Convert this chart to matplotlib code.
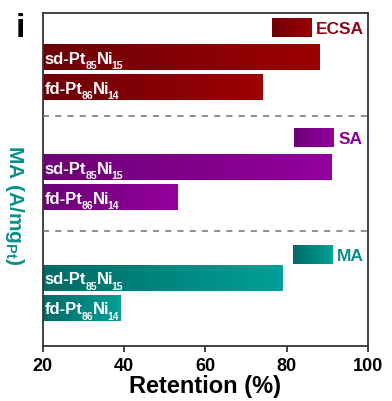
import numpy as np
import matplotlib.pyplot as plt
from matplotlib.colors import LinearSegmentedColormap
from matplotlib.font_manager import FontProperties
from matplotlib.transforms import ScaledTranslation
from matplotlib.textpath import TextPath

plt.rcParams['font.family'] = 'Liberation Sans'
plt.rcParams['font.weight'] = 'bold'
plt.rcParams['mathtext.fontset'] = 'custom'
plt.rcParams['mathtext.rm'] = 'Liberation Sans:bold'
plt.rcParams['mathtext.bf'] = 'Liberation Sans:bold'
plt.rcParams['mathtext.default'] = 'bf'

# ---- retention data ----
metrics = ['ECSA', 'SA', 'MA']
# sample names as (text, is_subscript) pieces
samples = [
    [('sd-Pt', False), ('85', True), ('Ni', False), ('15', True)],
    [('fd-Pt', False), ('86', True), ('Ni', False), ('14', True)],
]
ecsa_ret = [88, 74]
sa_ret = [91, 53]
ma_ret = [79, 39]
xticks = [20, 40, 60, 80, 100]

# ---- styling / layout ----
dark = ['#6c0008', '#6c0076', '#006a66']
light = ['#9c0002', '#93009d', '#00a098']
text_col = ['#8e0a12', '#8a0094', '#0b8f8a']

row_y = [(44, 74), (154, 184), (264.5, 294.5)]
key_y = [14.5, 124.5, 241.5]
key_x = [(76.4, 86.0), (81.9, 91.6), (81.5, 91.2)]
dash_y = [103.3, 217.7]
BAR_H = 26
KEY_H = 18.5
X0 = 20
DPI = 100

fig = plt.figure(figsize=(3.92, 4.02), dpi=DPI)
ax = fig.add_axes([0.109, 0.136, 0.830, 0.829])
ax.set_xlim(20, 100)
ax.set_ylim(333, 0)


def gradient_fill(patch, cmap):
    # paint a left-to-right gradient over a rectangle
    x, y = patch.get_x(), patch.get_y()
    w, h = patch.get_width(), patch.get_height()
    grad = np.linspace(0, 1, 256).reshape(1, -1)
    im = ax.imshow(grad, cmap=cmap, aspect='auto', interpolation='bicubic',
                   extent=(x, x + w, y + h, y), zorder=2)
    im.set_clip_path(patch)
    patch.set_facecolor('none')


def formula(x, y, pieces, size=12, sub_size=7.5, drop=5.5):
    # main text on one baseline, subscripts dropped below it
    dx = 0.0
    for txt, is_sub in pieces:
        fp = FontProperties(family='Liberation Sans', weight='bold',
                            size=sub_size if is_sub else size)
        shift = ScaledTranslation(dx / DPI, -drop / DPI if is_sub else 0,
                                  fig.dpi_scale_trans)
        ax.text(x, y, txt, fontproperties=fp, color='white',
                transform=ax.transData + shift, va='baseline', ha='left',
                zorder=4)
        # advance by the inked width of this piece (points -> pixels)
        ink_right = TextPath((0, 0), txt, prop=fp).get_extents().x1
        dx += ink_right * DPI / 72 + (0.4 if is_sub else -0.9)


for i, vals in enumerate([ecsa_ret, sa_ret, ma_ret]):
    cmap = LinearSegmentedColormap.from_list(metrics[i], [dark[i], light[i]])
    bars = ax.barh(row_y[i], [v - X0 for v in vals], left=X0, height=BAR_H,
                   color=light[i], edgecolor='none', zorder=1)
    for bar, pieces in zip(bars, samples):
        gradient_fill(bar, cmap)
        formula(X0 + 0.5, bar.get_y() + bar.get_height() / 2 + 5.5, pieces)

    # key patch + metric name
    kx0, kx1 = key_x[i]
    key = ax.barh(key_y[i], kx1 - kx0, left=kx0, height=KEY_H,
                  color=light[i], edgecolor='none', zorder=1)[0]
    gradient_fill(key, cmap)
    ax.text(kx1 + 1.2, key_y[i] + 0.5, metrics[i], color=text_col[i],
            fontsize=12.5, va='center', ha='left')

for y in dash_y:
    ax.axhline(y, color='#707070', lw=1.1, ls=(0, (4, 4)), zorder=3)

for s in ax.spines.values():
    s.set_color('#333333')
    s.set_linewidth(1.3)

ax.set_xticks(xticks)
ax.set_xticklabels([str(t) for t in xticks], fontweight='bold')
ax.tick_params(axis='x', direction='out', length=4, width=1.3,
               labelsize=13, pad=4, color='#333333')
ax.set_yticks([])
ax.set_xlabel('Retention (%)', fontsize=17, fontweight='bold', labelpad=0)

fig.text(0.038, 0.49, 'MA (A/mg$_{Pt}$)', rotation=-90, color=text_col[2],
         fontsize=15, ha='center', va='center')
fig.text(0.053, 0.928, 'i', fontsize=24, fontweight='bold',
         ha='center', va='center')

fig.savefig('out.png', dpi=DPI)
